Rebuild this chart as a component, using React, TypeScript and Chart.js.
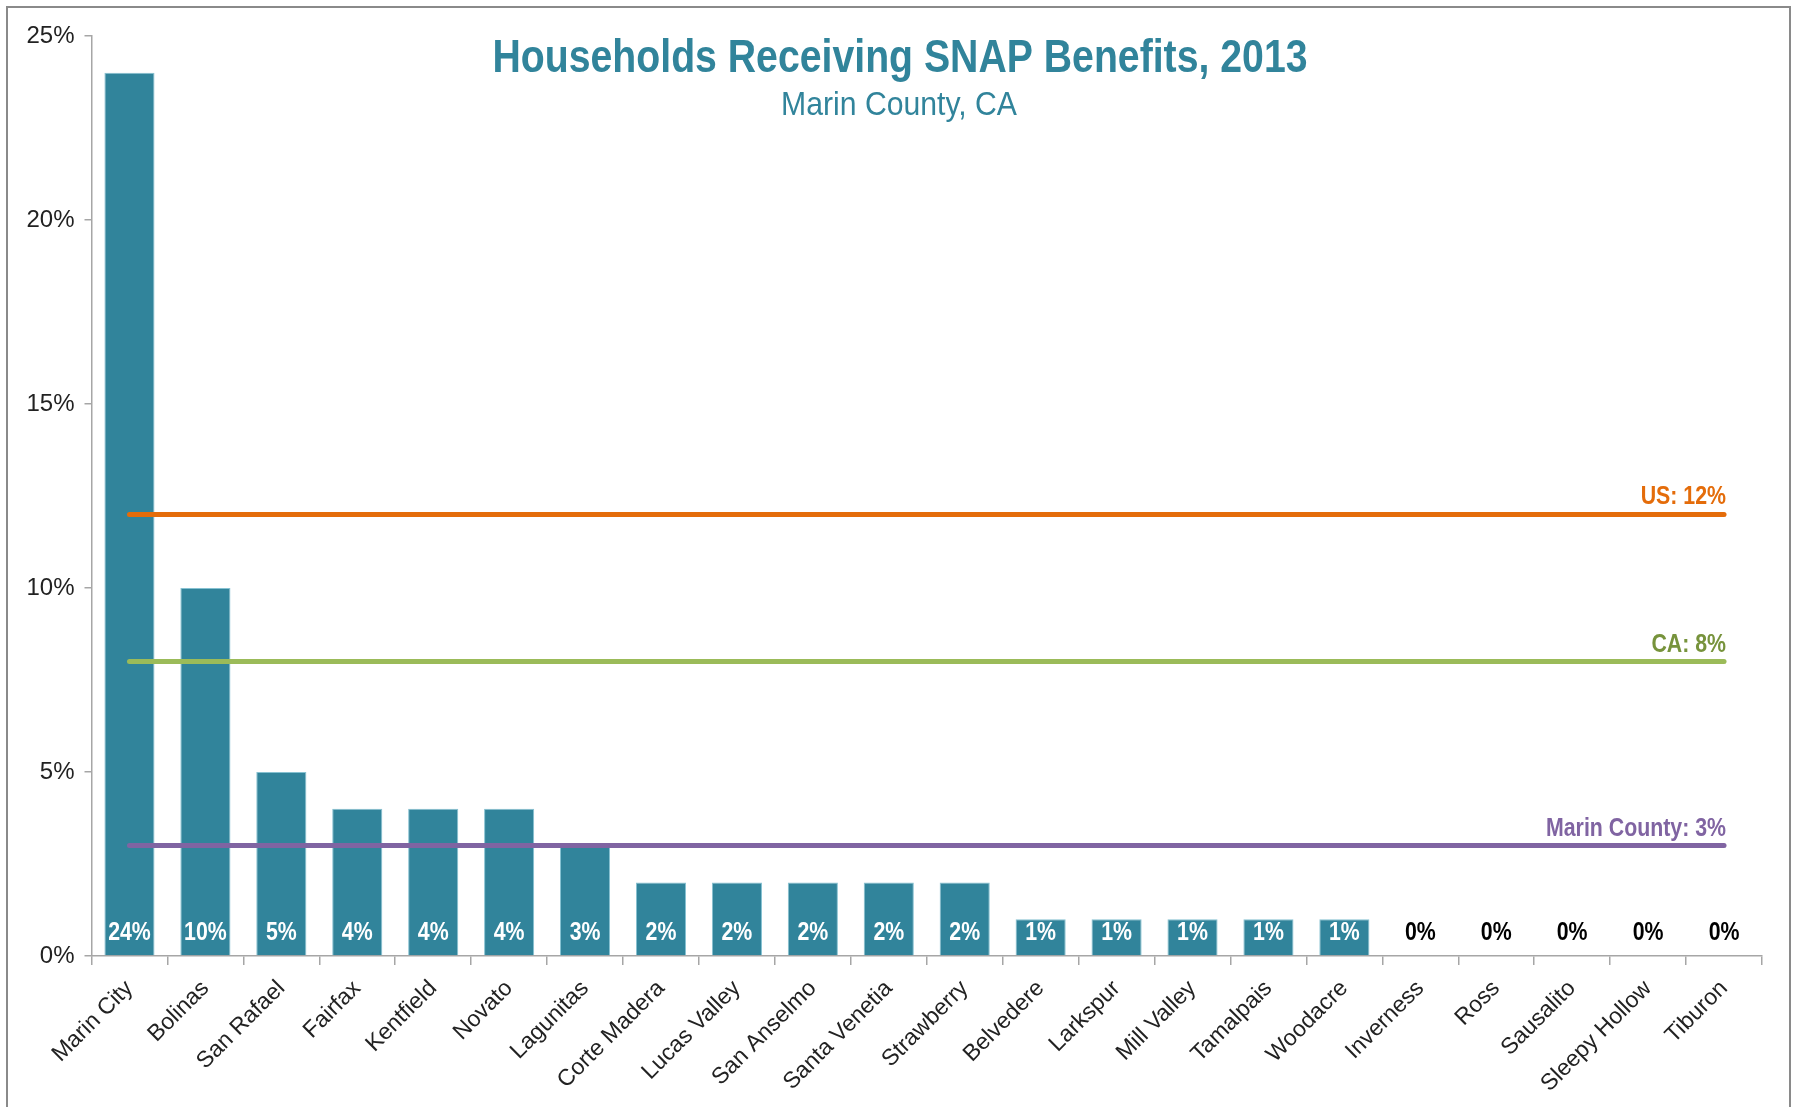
import React, { useEffect, useRef } from 'react';
import { Chart, registerables } from 'chart.js';

Chart.register(...registerables);

const categories = [
  'Marin City', 'Bolinas', 'San Rafael', 'Fairfax', 'Kentfield', 'Novato', 'Lagunitas',
  'Corte Madera', 'Lucas Valley', 'San Anselmo', 'Santa Venetia', 'Strawberry', 'Belvedere',
  'Larkspur', 'Mill Valley', 'Tamalpais', 'Woodacre', 'Inverness', 'Ross', 'Sausalito',
  'Sleepy Hollow', 'Tiburon',
];
const snapShares = [24, 10, 5, 4, 4, 4, 3, 2, 2, 2, 2, 2, 1, 1, 1, 1, 1, 0, 0, 0, 0, 0];
const yTicks = [0, 5, 10, 15, 20, 25];
const refNames = ['US', 'CA', 'Marin County'];
const refValues = [12, 8, 3];
const refLineColors = ['#E46C0A', '#9BBB59', '#8064A2'];
const refLabelColors = ['#E46C0A', '#77933C', '#8064A2'];
const TITLE = 'Households Receiving SNAP Benefits, 2013';
const SUBTITLE = 'Marin County, CA';

const FONT = "'Liberation Sans', Arial, sans-serif";
const TEAL = '#31849B';
const NARROW = 0.82;

function drawNarrow(ctx: CanvasRenderingContext2D, text: string, x: number, y: number, align: CanvasTextAlign, sx: number) {
  ctx.save();
  ctx.textAlign = align;
  ctx.translate(x, y);
  ctx.scale(sx, 1);
  ctx.fillText(text, 0, 0);
  ctx.restore();
}

const overlayPlugin = {
  id: 'overlay',
  afterDatasetsDraw(chart: any) {
    const ctx: CanvasRenderingContext2D = chart.ctx;
    const yBottom = chart.scales.y.getPixelForValue(0);
    ctx.save();
    ctx.textBaseline = 'alphabetic';
    ctx.font = `bold 26px ${FONT}`;
    const barMeta = chart.getDatasetMeta(0);
    barMeta.data.forEach((bar: any, i: number) => {
      const v = snapShares[i];
      ctx.fillStyle = v > 0 ? '#ffffff' : '#000000';
      drawNarrow(ctx, `${v}%`, bar.x, yBottom - 16, 'center', NARROW);
    });
    refNames.forEach((name, j) => {
      const meta = chart.getDatasetMeta(j + 1);
      const pt = meta.data[meta.data.length - 1];
      ctx.fillStyle = refLabelColors[j];
      drawNarrow(ctx, `${name}: ${refValues[j]}%`, pt.x + 2, pt.y - 10, 'right', NARROW);
    });
    ctx.fillStyle = TEAL;
    ctx.font = `bold 46px ${FONT}`;
    const tw = ctx.measureText(TITLE).width;
    drawNarrow(ctx, TITLE, 900, 72, 'center', 815 / tw);
    ctx.font = `33px ${FONT}`;
    const sw = ctx.measureText(SUBTITLE).width;
    drawNarrow(ctx, SUBTITLE, 899, 115, 'center', 236 / sw);
    ctx.restore();
  },
};

export default function App() {
  const ref = useRef<HTMLCanvasElement>(null);
  useEffect(() => {
    if (!ref.current) return;
    const axisColor = '#A6A6A6';
    const chart = new Chart(ref.current, {
      type: 'bar',
      data: {
        labels: categories,
        datasets: [
          {
            type: 'bar',
            data: snapShares,
            backgroundColor: TEAL,
            borderColor: '#86C1D1',
            borderWidth: 1,
            categoryPercentage: 1,
            barPercentage: 0.66,
            order: 2,
          } as any,
          ...refNames.map((n, j) => ({
            type: 'line',
            label: n,
            data: [
              { x: categories[0], y: refValues[j] },
              { x: categories[categories.length - 1], y: refValues[j] },
            ],
            borderColor: refLineColors[j],
            borderWidth: 5,
            borderCapStyle: 'round',
            pointRadius: 0,
            fill: false,
            order: 1,
          } as any)),
        ],
      },
      options: {
        animation: false,
        responsive: false,
        devicePixelRatio: 1,
        layout: { padding: { top: 36, right: 32, left: 0, bottom: 0 } },
        plugins: {
          legend: { display: false },
          tooltip: { enabled: false },
          title: { display: false },
        },
        scales: {
          x: {
            grid: { display: true, drawOnChartArea: false, offset: true, tickLength: 9, color: axisColor, lineWidth: 1.5 },
            border: { color: axisColor, width: 1.5 },
            ticks: {
              autoSkip: false,
              minRotation: 45,
              maxRotation: 45,
              color: '#222222',
              font: { family: FONT, size: 23 },
              padding: 10,
            },
            afterFit: (s: any) => { s.height = 151; },
          },
          y: {
            min: 0,
            max: 25,
            afterBuildTicks: (s: any) => { s.ticks = yTicks.map((v) => ({ value: v })); },
            grid: { display: true, drawOnChartArea: false, tickLength: 7, color: axisColor, lineWidth: 1.5 },
            border: { color: axisColor, width: 1.5 },
            ticks: {
              color: '#222222',
              font: { family: FONT, size: 24 },
              padding: 10,
              callback: (v: any) => `${v}%`,
            },
            afterFit: (s: any) => { s.width = 91.5; },
          },
        },
      } as any,
      plugins: [overlayPlugin],
    });
    return () => chart.destroy();
  }, []);

  return (
    <div style={{ position: 'fixed', left: 0, top: 0, width: 1794, height: 1107, overflow: 'hidden', background: '#ffffff' }}>
      <canvas ref={ref} width={1794} height={1107} style={{ position: 'absolute', left: 0, top: 0, width: 1794, height: 1107 }} />
      <div style={{ position: 'absolute', left: 6, top: 6, width: 1785, height: 1200, border: '2.5px solid #8A8A8A', boxSizing: 'border-box', pointerEvents: 'none' }} />
    </div>
  );
}
